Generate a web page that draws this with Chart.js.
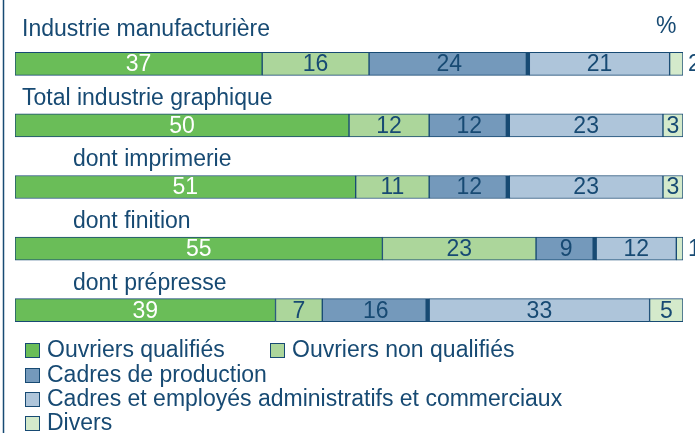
<!DOCTYPE html>
<html>
<head>
<meta charset="utf-8">
<script src="https://cdn.jsdelivr.net/npm/chart.js@4.4.0/dist/chart.umd.min.js"></script>
<style>
  html, body { margin: 0; padding: 0; background: #ffffff; }
  #wrap { position: relative; width: 695px; height: 433px; }
</style>
</head>
<body>
<div id="wrap"><canvas id="chart" width="695" height="433"></canvas></div>
<script>
const CATEGORIES = [
    'Industrie manufacturière',
    'Total industrie graphique',
    'dont imprimerie',
    'dont finition',
    'dont prépresse'
];
const INDENTED = [false, false, true, true, true];

const SERIES_NAMES = [
    'Ouvriers qualifiés',
    'Ouvriers non qualifiés',
    'Cadres de production',
    'Cadres et employés administratifs et commerciaux',
    'Divers'
];
const OUVRIERS_QUALIFIES = [37, 50, 51, 55, 39];
const OUVRIERS_NON_QUALIFIES = [16, 12, 11, 23, 7];
const CADRES_PRODUCTION = [24, 12, 12, 9, 16];
const CADRES_ADMIN = [21, 23, 23, 12, 33];
const DIVERS = [2, 3, 3, 1, 5];

const COLORS = ['#6abd58', '#acd69b', '#7499bb', '#aec5da', '#d4eacb'];
const LABEL_COLORS = ['#ffffff', '#174a73', '#174a73', '#174a73', '#174a73'];
const DARK = '#174a73';
const FONT = '"Liberation Sans", Arial, sans-serif';

const values = [OUVRIERS_QUALIFIES, OUVRIERS_NON_QUALIFIES, CADRES_PRODUCTION, CADRES_ADMIN, DIVERS];

const datasets = values.map((v, i) => ({
    label: SERIES_NAMES[i],
    data: v,
    backgroundColor: COLORS[i],
    borderColor: DARK,
    borderWidth: (i == 2) ? {top: 1, bottom: 1, left: 1, right: 4} : 1,
    borderSkipped: false,
    barThickness: 23,
}));

// labels above the bars, values in the bars, legend and left rule
const decorations = {
    id: 'decorations',
    afterDatasetsDraw(chart) {
        const ctx = chart.ctx;
        ctx.save();

        // left rule
        ctx.strokeStyle = DARK;
        ctx.lineWidth = 1.5;
        ctx.beginPath();
        ctx.moveTo(3.5, 0);
        ctx.lineTo(3.5, 433);
        ctx.stroke();

        // category titles
        ctx.font = '23px ' + FONT;
        ctx.fillStyle = DARK;
        ctx.textBaseline = 'middle';
        ctx.textAlign = 'left';
        const meta0 = chart.getDatasetMeta(0);
        meta0.data.forEach((bar, i) => {
            const off = (i == 0) ? 34 : 27;
            ctx.fillText(CATEGORIES[i], INDENTED[i] ? 73 : 22, bar.y - off);
        });
        ctx.fillText('%', 656, 27);

        // values
        ctx.textAlign = 'center';
        chart.data.datasets.forEach((ds, d) => {
            const meta = chart.getDatasetMeta(d);
            meta.data.forEach((bar, i) => {
                const v = ds.data[i];
                ctx.fillStyle = LABEL_COLORS[d];
                if (v <= 2) {
                    ctx.textAlign = 'left';
                    ctx.fillStyle = DARK;
                    ctx.fillText(v, bar.x + 5, bar.y + 1);
                    ctx.textAlign = 'center';
                } else {
                    ctx.fillText(v, (bar.base + bar.x) / 2, bar.y + 1);
                }
            });
        });

        // legend
        const items = [
            {i: 0, x: 25, y: 350},
            {i: 1, x: 270, y: 350},
            {i: 2, x: 25, y: 375},
            {i: 3, x: 25, y: 399},
            {i: 4, x: 25, y: 423},
        ];
        ctx.textAlign = 'left';
        items.forEach(it => {
            ctx.fillStyle = COLORS[it.i];
            ctx.fillRect(it.x, it.y - 7, 15, 15);
            ctx.strokeStyle = DARK;
            ctx.lineWidth = 1;
            ctx.strokeRect(it.x + 0.5, it.y - 6.5, 14, 14);
            ctx.fillStyle = DARK;
            ctx.fillText(SERIES_NAMES[it.i], it.x + 22, it.y + 1);
        });

        ctx.restore();
    }
};

new Chart(document.getElementById('chart').getContext('2d'), {
    type: 'bar',
    data: {
        labels: CATEGORIES,
        datasets: datasets
    },
    options: {
        indexAxis: 'y',
        responsive: false,
        animation: false,
        layout: {
            padding: {left: 15, right: 12, top: 33, bottom: 92}
        },
        plugins: {
            legend: {display: false},
            tooltip: {enabled: false},
        },
        scales: {
            x: {
                stacked: true,
                min: 0,
                max: 100,
                display: false,
            },
            y: {
                stacked: true,
                display: false,
            }
        }
    },
    plugins: [decorations]
});
</script>
</body>
</html>
